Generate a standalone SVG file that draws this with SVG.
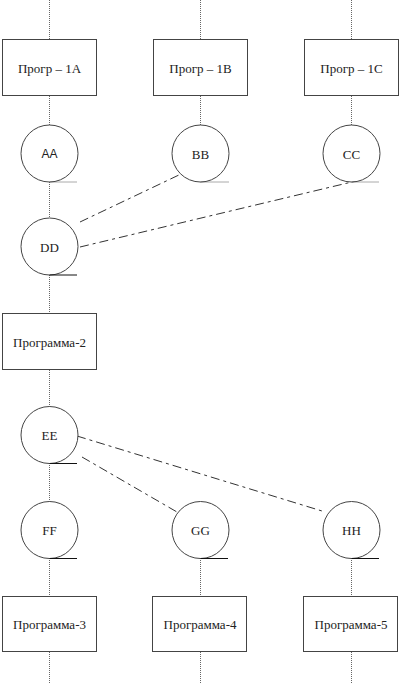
<svg xmlns="http://www.w3.org/2000/svg" width="401" height="684" viewBox="0 0 401 684">
<style>
.box{fill:#fff;stroke:#444;stroke-width:1}
.circ{fill:#fff;stroke:#444;stroke-width:1}
.t{font-family:"Liberation Serif","Times New Roman",serif;font-size:13px;fill:#222;text-anchor:middle;dominant-baseline:central}
.ts{font-family:"Liberation Sans",Arial,sans-serif;font-size:12px;fill:#222;text-anchor:middle;dominant-baseline:central}
.v{stroke:#666;stroke-width:1;fill:none;stroke-dasharray:1 1}
.tg{stroke:#555;stroke-width:1;stroke-dasharray:1 1}
.ts2{stroke:#111;stroke-width:1}
.dd{stroke:#333;stroke-width:1;fill:none;stroke-dasharray:9 4 3 4}
</style>
<g id="connectors">
<path class="v" d="M49.5 0V39M49.5 96V125M49.5 182V218M49.5 275V313M49.5 370V407M49.5 463V502M49.5 558V596M49.5 652V684"/>
<path class="v" d="M200.5 0V39M200.5 96V125M200.5 558V596M200.5 652V684"/>
<path class="v" d="M351.5 0V39M351.5 96V125M351.5 558V596M351.5 652V684"/>
<path class="dd" d="M80 222L181 174"/>
<path class="dd" d="M80 247L356 181"/>
<path class="dd" d="M77 436L322 511"/>
<path class="dd" d="M82 457L177 512"/>
</g>
<g id="p1a"><rect class="box" x="2.5" y="39.5" width="94" height="56"/><text class="t" x="49.5" y="68">Прогр – 1A</text></g>
<g id="p1b"><rect class="box" x="153.5" y="39.5" width="94" height="56"/><text class="t" x="200.5" y="68">Прогр – 1B</text></g>
<g id="p1c"><rect class="box" x="304.5" y="39.5" width="94" height="56"/><text class="t" x="351.5" y="68">Прогр – 1C</text></g>
<g id="aa"><circle class="circ" cx="49.5" cy="153.5" r="28.5"/><line class="tg" x1="49.5" y1="182" x2="77" y2="182"/><text class="ts" x="49.5" y="154">AA</text></g>
<g id="bb"><circle class="circ" cx="200.5" cy="153.5" r="28.5"/><line class="tg" x1="200.5" y1="182" x2="229" y2="182"/><text class="t" x="200.5" y="154">BB</text></g>
<g id="cc"><circle class="circ" cx="351.5" cy="153.5" r="28.5"/><line class="tg" x1="351.5" y1="182" x2="379" y2="182"/><text class="t" x="351.5" y="154">CC</text></g>
<g id="dd"><circle class="circ" cx="49.5" cy="246.5" r="28.5"/><line class="ts2" x1="49.5" y1="275" x2="77" y2="275"/><text class="t" x="49.5" y="247">DD</text></g>
<g id="p2"><rect class="box" x="2.5" y="313.5" width="94" height="56"/><text class="t" x="49.5" y="342">Программа-2</text></g>
<g id="ee"><circle class="circ" cx="49.5" cy="435" r="28.5"/><line class="ts2" x1="49.5" y1="463.5" x2="77" y2="463.5"/><text class="t" x="49.5" y="435">EE</text></g>
<g id="ff"><circle class="circ" cx="49.5" cy="530" r="28.5"/><line class="ts2" x1="49.5" y1="558.5" x2="77" y2="558.5"/><text class="t" x="49.5" y="530">FF</text></g>
<g id="gg"><circle class="circ" cx="200.5" cy="530" r="28.5"/><line class="ts2" x1="200.5" y1="558.5" x2="228" y2="558.5"/><text class="t" x="200.5" y="530">GG</text></g>
<g id="hh"><circle class="circ" cx="351.5" cy="530" r="28.5"/><line class="ts2" x1="351.5" y1="558.5" x2="379" y2="558.5"/><text class="t" x="351.5" y="530">HH</text></g>
<g id="p3"><rect class="box" x="2.5" y="596.5" width="94" height="55"/><text class="t" x="49.5" y="624">Программа-3</text></g>
<g id="p4"><rect class="box" x="152.5" y="596.5" width="94" height="55"/><text class="t" x="200" y="624">Программа-4</text></g>
<g id="p5"><rect class="box" x="303.5" y="596.5" width="94" height="55"/><text class="t" x="351" y="624">Программа-5</text></g>
</svg>
